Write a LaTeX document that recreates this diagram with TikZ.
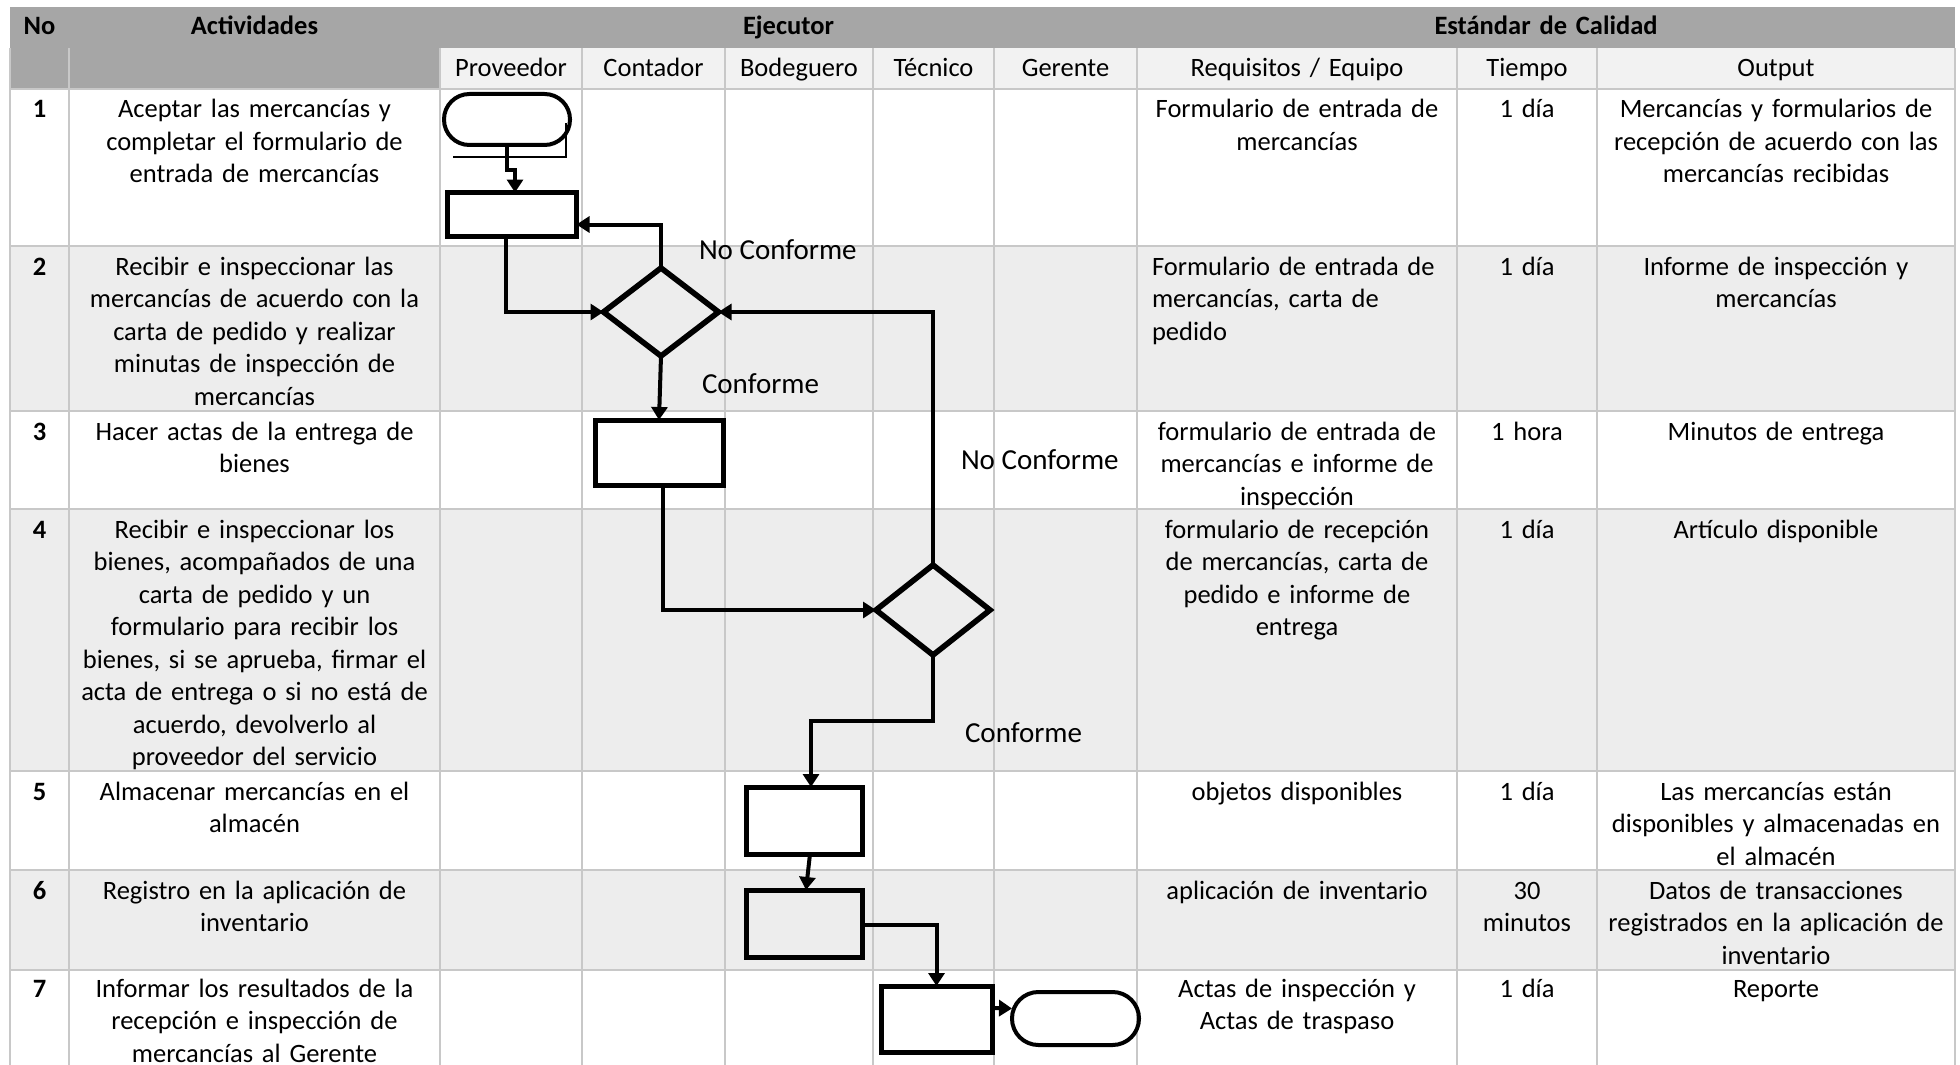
\documentclass[tikz,border=0pt]{standalone}
\usepackage{fontspec}
\setmainfont{Carlito}
\usetikzlibrary{shapes.geometric,arrows.meta,calc}
\definecolor{hdrgray}{HTML}{A6A6A6}
\definecolor{rowgray}{HTML}{EDEDED}
\definecolor{hdrlight}{HTML}{F2F2F2}
\definecolor{gridc}{HTML}{C8C8C8}
\begin{document}
\begin{tikzpicture}[x=0.5pt,y=-0.5pt,
  txt/.style={inner sep=0pt,outer sep=0pt,text width=220pt,align=center,anchor=base,
    font=\fontsize{13.25pt}{16.25pt}\selectfont},
  txtl/.style={txt,align=left,anchor=base west},
  hdr/.style={txt,font=\fontsize{13.25pt}{16.25pt}\selectfont\bfseries},
  lbl/.style={inner sep=0pt,outer sep=0pt,anchor=base west,font=\fontsize{14.5pt}{16.25pt}\selectfont},
  gridline/.style={draw=gridc,line width=1pt},
  pbox/.style={draw,rectangle,line width=2.5pt,inner sep=0pt,outer sep=0pt},
  dbox/.style={draw,diamond,line width=2.8pt,inner sep=0pt,outer sep=0pt},
  tbox/.style={draw,rectangle,line width=2pt,inner sep=0pt,outer sep=0pt},
  conn/.style={draw,line width=2pt,-{Triangle[length=6.5pt,width=8pt]}},
]
\useasboundingbox (0,0) rectangle (1960,1065);
% backgrounds
\fill[hdrgray] (10,7) rectangle (1955,48);
\fill[hdrgray] (10,48) rectangle (440,89);
\fill[hdrlight] (440,48) rectangle (1955,89);
\fill[rowgray] (10,246) rectangle (1955,411);
\fill[rowgray] (10,509) rectangle (1955,771);
\fill[rowgray] (10,870) rectangle (1955,970);
% grid
\foreach \yy in {89,246,411,509,771,870,970} \draw[gridline] (10,\yy) -- (1955,\yy);
\foreach \xx in {10,69,440,582,725,873,994,1137,1457,1597,1955} \draw[gridline] (\xx,48) -- (\xx,1065);
% header texts
\node[hdr] (hNo) at (39.5,35) {No};
\node[hdr] (hAct) at (254.5,35) {Actividades};
\node[hdr] (hEje) at (788.5,35) {Ejecutor};
\node[hdr] (hEst) at (1546,35) {Estándar de Calidad};
\node[txt] (hProv) at (511,77) {Proveedor};
\node[txt] (hCont) at (653.5,77) {Contador};
\node[txt] (hBod) at (799,77) {Bodeguero};
\node[txt] (hTec) at (933.5,77) {Técnico};
\node[txt] (hGer) at (1065.5,77) {Gerente};
\node[txt] (hReq) at (1297,77) {Requisitos / Equipo};
\node[txt] (hTie) at (1527,77) {Tiempo};
\node[txt] (hOut) at (1776,77) {Output};
% row 1
\node[hdr] (n1) at (39.5,118) {1};
\node[txt] (a1) at (254.5,118) {Aceptar las mercancías y\\completar el formulario de\\entrada de mercancías};
\node[txt] (q1) at (1297,118) {Formulario de entrada de\\mercancías};
\node[txt] (t1x) at (1527,118) {1 día};
\node[txt] (o1) at (1776,118) {Mercancías y formularios de\\recepción de acuerdo con las\\mercancías recibidas};
% row 2
\node[hdr] (n2) at (39.5,275) {2};
\node[txt] (a2) at (254.5,275) {Recibir e inspeccionar las\\mercancías de acuerdo con la\\carta de pedido y realizar\\minutas de inspección de\\mercancías};
\node[txtl] (q2) at (1152,275) {Formulario de entrada de\\mercancías, carta de\\pedido};
\node[txt] (t2x) at (1527,275) {1 día};
\node[txt] (o2) at (1776,275) {Informe de inspección y\\mercancías};
% row 3
\node[hdr] (n3) at (39.5,440) {3};
\node[txt] (a3) at (254.5,440) {Hacer actas de la entrega de\\bienes};
\node[txt] (q3) at (1297,440) {formulario de entrada de\\mercancías e informe de\\inspección};
\node[txt] (t3x) at (1527,440) {1 hora};
\node[txt] (o3) at (1776,440) {Minutos de entrega};
% row 4
\node[hdr] (n4) at (39.5,538) {4};
\node[txt] (a4) at (254.5,538) {Recibir e inspeccionar los\\bienes, acompañados de una\\carta de pedido y un\\formulario para recibir los\\bienes, si se aprueba, firmar el\\acta de entrega o si no está de\\acuerdo, devolverlo al\\proveedor del servicio};
\node[txt] (q4) at (1297,538) {formulario de recepción\\de mercancías, carta de\\pedido e informe de\\entrega};
\node[txt] (t4x) at (1527,538) {1 día};
\node[txt] (o4) at (1776,538) {Artículo disponible};
% row 5
\node[hdr] (n5) at (39.5,800) {5};
\node[txt] (a5) at (254.5,800) {Almacenar mercancías en el\\almacén};
\node[txt] (q5) at (1297,800) {objetos disponibles};
\node[txt] (t5x) at (1527,800) {1 día};
\node[txt] (o5) at (1776,800) {Las mercancías están\\disponibles y almacenadas en\\el almacén};
% row 6
\node[hdr] (n6) at (39.5,899) {6};
\node[txt] (a6) at (254.5,899) {Registro en la aplicación de\\inventario};
\node[txt] (q6) at (1297,899) {aplicación de inventario};
\node[txt] (t6x) at (1527,899) {30\\minutos};
\node[txt] (o6) at (1776,899) {Datos de transacciones\\registrados en la aplicación de\\inventario};
% row 7
\node[hdr] (n7) at (39.5,997) {7};
\node[txt] (a7) at (254.5,997) {Informar los resultados de la\\recepción e inspección de\\mercancías al Gerente};
\node[txt] (q7) at (1297,997) {Actas de inspección y\\Actas de traspaso};
\node[txt] (t7x) at (1527,997) {1 día};
\node[txt] (o7) at (1776,997) {Reporte};
% flow shapes
\node[tbox,minimum width=63pt,minimum height=25.5pt,rounded corners=12.7pt] (term1) at (507,119.5) {};
\node[pbox,minimum width=64.5pt,minimum height=22pt] (box1) at (512,214.5) {};
\node[dbox,minimum width=57.5pt,minimum height=44pt] (d1) at (661,312) {};
\node[pbox,minimum width=64pt,minimum height=32.5pt] (box3) at (659,452.5) {};
\node[dbox,minimum width=57pt,minimum height=45pt] (d2) at (933,610) {};
\node[pbox,minimum width=58pt,minimum height=33.5pt] (box5) at (804,820.5) {};
\node[pbox,minimum width=58pt,minimum height=33.5pt] (box6) at (804,923.5) {};
\node[pbox,minimum width=55.5pt,minimum height=33pt] (box7) at (936.5,1019) {};
\node[tbox,minimum width=63.5pt,minimum height=26.5pt,rounded corners=13.2pt] (term7) at (1075.5,1018.5) {};
% small bracket artefact
\draw[line width=1pt] ($(term1.south west)+(9,12)$) -- ($(term1.south east)+(-4,12)$) -- ($(term1.east)+(-4,4)$);
% labels
\node[lbl] (l1) at (699,259) {No Conforme};
\node[lbl] (l2) at (702,393) {Conforme};
\node[lbl] (l3) at (961,469) {No Conforme};
\node[lbl] (l4) at (965,742) {Conforme};
% connectors
\draw[conn] (term1.south) -- ++(0,25) -| ($(box1.north)+(3,0)$);
\draw[conn] ($(box1.south)+(-6,0)$) |- (d1.west);
\draw[conn] (d1.north) |- ($(box1.east)+(0,10)$);
\draw[conn] (d1.south) -- (box3.north);
\draw[conn] ($(box3.south)+(4,0)$) |- (d2.west);
\draw[conn] (d2.north) |- (d1.east);
\draw[conn] (d2.south) -- ++(0,66) -| ($(box5.north)+(7,0)$);
\draw[conn] ($(box5.south)+(6,0)$) -- ($(box6.north)+(2,0)$);
\draw[conn] ($(box6.east)+(0,1)$) -| (box7.north);
\draw[conn] ($(box7.east)+(0,-11)$) -- ($(term7.west)+(0,-10)$);
\end{tikzpicture}
\end{document}
